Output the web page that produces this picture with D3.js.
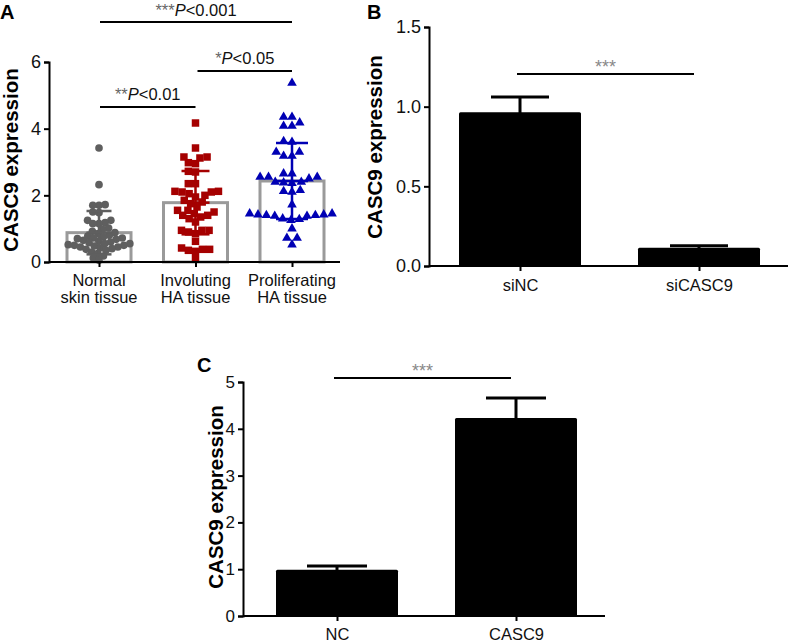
<!DOCTYPE html>
<html><head><meta charset="utf-8">
<script src="https://cdn.jsdelivr.net/npm/d3@7"></script>
<style>
html,body{margin:0;padding:0;background:#fff;}
svg{display:block;font-family:Arial,"Liberation Sans",sans-serif;}
</style></head>
<body>
<svg id="chart" width="789" height="642"></svg>
<script>
// ---------- Panel A data ----------
const groupsA = ["Normal skin tissue", "Involuting HA tissue", "Proliferating HA tissue"];
const groupLinesA = [["Normal", "skin tissue"], ["Involuting", "HA tissue"], ["Proliferating", "HA tissue"]];
const normalValues = [3.42, 2.32, 1.72, 1.70, 1.70, 1.50, 1.48, 1.25, 1.25, 1.18, 1.15, 1.15, 1.02, 0.98, 0.92,
  0.88, 0.85, 0.80, 0.78, 0.75, 0.72, 0.72, 0.70, 0.68, 0.65, 0.62, 0.60, 0.58, 0.55, 0.55, 0.52, 0.50,
  0.50, 0.48, 0.45, 0.45, 0.42, 0.40, 0.38, 0.35, 0.30, 0.25, 0.18, 0.12, 0.05];
const involutingValues = [4.17, 3.42, 3.15, 3.15, 3.12, 2.98, 2.95, 2.72, 2.70, 2.35, 2.35, 2.12, 2.12, 2.10,
  2.05, 2.00, 1.95, 2.10, 1.85, 1.80, 1.75, 1.65, 1.55, 1.55, 1.50, 1.45, 1.40, 1.40, 1.35, 1.30, 1.20,
  0.95, 0.95, 0.95, 0.90, 0.85, 0.62, 0.38, 0.35, 0.32, 0.38, 0.42, 0.10];
const proliferatingValues = [5.37, 4.35, 4.35, 4.08, 4.08, 4.18, 3.62, 3.60, 3.30, 3.30, 3.18, 3.18, 2.65, 2.65,
  2.55, 2.55, 2.55, 2.50, 2.40, 2.40, 2.38, 2.36, 2.15, 2.12, 2.10, 1.72, 1.45, 1.45, 1.42, 1.42, 1.40,
  1.40, 1.38, 1.38, 1.30, 1.28, 1.25, 1.00, 0.72, 0.72, 0.52];
const meansA = [0.88, 1.78, 2.43];
const sdA = [0.65, 0.95, 1.14];
const ticksA = [0, 2, 4, 6];
const sigA = [
  {from: 0, to: 2, stars: "***", p: "<0.001"},
  {from: 1, to: 2, stars: "*", p: "<0.05"},
  {from: 0, to: 1, stars: "**", p: "<0.01"}
];

// ---------- Panel B data ----------
const catsB = ["siNC", "siCASC9"];
const meansB = [0.965, 0.115];
const errB = [0.095, 0.012];
const ticksB = [0, 0.5, 1.0, 1.5];

// ---------- Panel C data ----------
const catsC = ["NC", "CASC9"];
const meansC = [0.99, 4.23];
const errC = [0.08, 0.43];
const ticksC = [0, 1, 2, 3, 4, 5];

const svg = d3.select("#chart");
const FONT = 'Arial,"Liberation Sans",sans-serif';

function styleAxis(g) {
  g.selectAll("path.domain").attr("stroke", "#000").attr("stroke-width", 2);
  g.selectAll(".tick line").attr("stroke", "#000").attr("stroke-width", 2);
  g.selectAll(".tick text").attr("fill", "#111").style("font-family", FONT);
}

// ================= Panel A =================
(function () {
  const x0 = 49, x1 = 340, yBase = 262, yTop = 62;
  const y = d3.scaleLinear().domain([0, 6]).range([yBase, yTop]);
  const x = d3.scalePoint().domain(groupsA).range([99, 292]);
  const barW = 64;
  const colors = ["#5f5f5f", "#a50000", "#0000b4"];
  const seriesA = [normalValues, involutingValues, proliferatingValues];
  const g = svg.append("g");

  g.selectAll("rect.barA").data(groupsA).join("rect")
    .attr("x", d => x(d) - barW / 2)
    .attr("y", (d, i) => y(meansA[i]))
    .attr("width", barW)
    .attr("height", (d, i) => yBase - y(meansA[i]))
    .attr("fill", "#fff").attr("stroke", "#9a9a9a").attr("stroke-width", 3);

  function swarm(values, D) {
    const placed = [];
    const order = values.map((v, i) => i).sort((a, b) => values[a] - values[b]);
    const res = new Array(values.length);
    order.forEach(i => {
      const py = y(values[i]);
      const forb = [];
      placed.forEach(p => {
        const dy = Math.abs(p.y - py);
        if (dy < D) {
          const w = Math.sqrt(D * D - dy * dy);
          forb.push([p.x - w, p.x + w]);
        }
      });
      const cands = [0];
      forb.forEach(f => { cands.push(f[0], f[1]); });
      cands.sort((a, b) => Math.abs(a) - Math.abs(b));
      let best = 0;
      for (const c of cands) {
        if (forb.every(f => c <= f[0] + 1e-6 || c >= f[1] - 1e-6)) { best = c; break; }
      }
      placed.push({x: best, y: py});
      res[i] = {dx: best, y: py, v: values[i]};
    });
    return res;
  }

  seriesA.forEach((vals, gi) => {
    const cx = x(groupsA[gi]);
    const pts = swarm(vals, [6.2, 7.2, 8.4][gi]);
    const col = colors[gi];
    const sel = g.append("g").selectAll("path").data(pts).join("path")
      .attr("fill", col)
      .attr("transform", d => `translate(${cx + d.dx},${d.y})`);
    if (gi === 0) sel.attr("d", d3.symbol(d3.symbolCircle, 46)());
    else if (gi === 1) sel.attr("d", d3.symbol(d3.symbolSquare, 56)());
    else sel.attr("d", d3.symbol(d3.symbolTriangle, 40)());

    const capW = [25, 28, 32][gi];
    const eg = g.append("g").attr("stroke", col).attr("stroke-width", 2.5);
    const hi = y(meansA[gi] + sdA[gi]), lo = y(meansA[gi] - sdA[gi]), m = y(meansA[gi]);
    eg.append("line").attr("x1", cx).attr("x2", cx).attr("y1", hi).attr("y2", lo);
    eg.append("line").attr("x1", cx - capW / 2).attr("x2", cx + capW / 2).attr("y1", hi).attr("y2", hi);
    eg.append("line").attr("x1", cx - capW / 2).attr("x2", cx + capW / 2).attr("y1", lo).attr("y2", lo);
    eg.append("line").attr("x1", cx - capW / 2).attr("x2", cx + capW / 2).attr("y1", m).attr("y2", m);
  });

  const ya = g.append("g").attr("transform", `translate(${x0},0)`)
    .call(d3.axisLeft(y).tickValues(ticksA).tickFormat(d3.format("d")).tickSize(5).tickPadding(3));
  ya.selectAll(".tick text").attr("font-size", 18);
  styleAxis(ya);
  const xa = g.append("g").attr("transform", `translate(0,${yBase})`)
    .call(d3.axisBottom(x).tickSize(5).tickFormat(""));
  xa.select("path.domain").remove();
  styleAxis(xa);
  g.append("line").attr("x1", x0).attr("x2", x1).attr("y1", yBase).attr("y2", yBase)
    .attr("stroke", "#000").attr("stroke-width", 2);

  groupsA.forEach((c, i) => {
    const t = g.append("text").attr("x", x(c)).attr("text-anchor", "middle")
      .attr("font-size", 16.5).attr("fill", "#111");
    groupLinesA[i].forEach((ln, k) => {
      t.append("tspan").attr("x", x(c)).attr("y", 286 + k * 17).text(ln);
    });
  });

  g.append("text").attr("transform", `translate(18,160) rotate(-90)`)
    .attr("text-anchor", "middle").attr("font-size", 20.5).attr("font-weight", "bold").text("CASC9 expression");
  g.append("text").attr("x", 0).attr("y", 19).attr("font-size", 20).attr("font-weight", "bold").text("A");

  const sigY = [22, 71, 107];
  const sigTextY = [16, 64, 100];
  sigA.forEach((s, i) => {
    const xa1 = x(groupsA[s.from]) + (s.from === 1 ? 2 : 1);
    const xa2 = x(groupsA[s.to]);
    g.append("line").attr("x1", xa1).attr("x2", xa2).attr("y1", sigY[i]).attr("y2", sigY[i])
      .attr("stroke", "#000").attr("stroke-width", 2);
    const t = g.append("text").attr("x", (xa1 + xa2) / 2).attr("y", sigTextY[i])
      .attr("text-anchor", "middle").attr("font-size", 16.5).attr("fill", "#111");
    t.append("tspan").attr("fill", "#666").text(s.stars);
    t.append("tspan").attr("font-style", "italic").text("P");
    t.append("tspan").text(s.p);
  });
})();

// ================= Bar panels B & C =================
function barPanel(opt) {
  const g = svg.append("g");
  const y = d3.scaleLinear().domain(opt.domain).range([opt.yBase, opt.yTop]);
  const x = d3.scalePoint().domain(opt.cats).range(opt.xr);
  g.selectAll("rect").data(opt.cats).join("rect")
    .attr("x", d => x(d) - opt.barW / 2)
    .attr("y", (d, i) => y(opt.means[i]))
    .attr("width", opt.barW)
    .attr("height", (d, i) => opt.yBase - y(opt.means[i]))
    .attr("fill", "#000").attr("rx", 1.5);
  opt.cats.forEach((c, i) => {
    const cx = x(c), top = y(opt.means[i] + opt.errs[i]), m = y(opt.means[i]);
    g.append("line").attr("x1", cx).attr("x2", cx).attr("y1", top).attr("y2", m + 2)
      .attr("stroke", "#000").attr("stroke-width", 3);
    g.append("line").attr("x1", cx - opt.capW / 2).attr("x2", cx + opt.capW / 2).attr("y1", top).attr("y2", top)
      .attr("stroke", "#000").attr("stroke-width", 3);
  });
  const ya = g.append("g").attr("transform", `translate(${opt.x0},0)`)
    .call(d3.axisLeft(y).tickValues(opt.ticks).tickFormat(opt.fmt).tickSize(5).tickPadding(3));
  ya.selectAll(".tick text").attr("font-size", opt.tickFont);
  styleAxis(ya);
  const xa = g.append("g").attr("transform", `translate(0,${opt.yBase})`)
    .call(d3.axisBottom(x).tickSize(5).tickPadding(opt.catPad));
  xa.select("path.domain").remove();
  xa.selectAll(".tick text").attr("font-size", 16.5);
  styleAxis(xa);
  g.append("line").attr("x1", opt.x0).attr("x2", opt.x1).attr("y1", opt.yBase).attr("y2", opt.yBase)
    .attr("stroke", "#000").attr("stroke-width", 2);
  g.append("text").attr("transform", `translate(${opt.labX},${opt.labY}) rotate(-90)`)
    .attr("text-anchor", "middle").attr("font-size", 20.5).attr("font-weight", "bold").text("CASC9 expression");
  g.append("text").attr("x", opt.letX).attr("y", opt.letY).attr("font-size", 20).attr("font-weight", "bold").text(opt.letter);
  const sx1 = x(opt.cats[0]) - 3, sx2 = x(opt.cats[1]) - 5;
  g.append("line").attr("x1", sx1).attr("x2", sx2).attr("y1", opt.sigY).attr("y2", opt.sigY)
    .attr("stroke", "#000").attr("stroke-width", 2);
  g.append("text").attr("x", (sx1 + sx2) / 2).attr("y", opt.sigY - 1).attr("text-anchor", "middle")
    .attr("font-size", 18).attr("fill", "#888").text("***");
}

barPanel({
  cats: catsB, means: meansB, errs: errB, ticks: ticksB, domain: [0, 1.5], fmt: d3.format(".1f"),
  x0: 429, x1: 788, yBase: 266, yTop: 27, xr: [520, 699], barW: 122, capW: 58,
  tickFont: 18, catPad: 8, labX: 382, labY: 147, letter: "B", letX: 367, letY: 19, sigY: 74
});

barPanel({
  cats: catsC, means: meansC, errs: errC, ticks: ticksC, domain: [0, 5], fmt: d3.format("d"),
  x0: 243, x1: 605, yBase: 616, yTop: 382, xr: [337, 516], barW: 122, capW: 60,
  tickFont: 17, catPad: 7, labX: 223, labY: 497, letter: "C", letX: 197, letY: 372, sigY: 378
});
</script>
</body></html>
